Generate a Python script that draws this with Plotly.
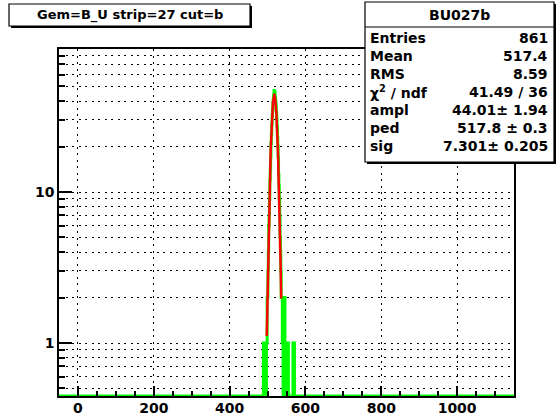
import numpy as np
import plotly.graph_objects as go

# ---------------- data ----------------
X_MIN, X_MAX = -50, 1150            # histogram range, 1 unit bins
nonzero_bins = [489, 491, 493, 497, 498, 499, 500, 501, 502, 503, 504, 505, 506, 507, 508,
                509, 510, 511, 512, 513, 514, 515, 516, 517, 518, 519, 520, 521, 522, 523,
                524, 525, 526, 527, 528, 529, 530, 531, 532, 533, 534, 535, 536, 537, 538,
                539, 540, 542, 544, 545, 547, 549, 551, 553, 554, 567, 569, 570]
nonzero_counts = [1, 1, 1, 1, 1, 2, 2, 3, 4, 6, 7, 9, 12, 14, 17,
                  21, 24, 28, 32, 35, 39, 41, 44, 47, 45, 46, 42, 40, 38, 34,
                  31, 27, 23, 20, 17, 13, 11, 9, 7, 5, 4, 3, 2, 2, 2,
                  1, 2, 2, 1, 2, 1, 1, 1, 1, 1, 1, 1, 1]
fit_ampl, fit_ped, fit_sig = 44.01, 517.8, 7.301
fit_lo, fit_hi = 498.0, 536.0

title_text = "Gem=B_U strip=27 cut=b"
stats_name = "BU027b"
stats_labels = ["Entries", "Mean", "RMS", "χ<sup>2</sup> / ndf", "ampl", "ped", "sig"]
stats_values = ["861", "517.4", "8.59", "41.49 / 36", "44.01± 1.94", "517.8 ± 0.3", "7.301± 0.205"]

x_tick_vals = [0, 200, 400, 600, 800, 1000]

# ---------------- geometry ----------------
W, H = 558, 417
L, R, T, B = 59, 44, 49, 21
PW, PH = W - L - R, H - T - B
Y_LOG_RANGE = [-0.351, 1.947]
Y_MIN = 10 ** Y_LOG_RANGE[0]


def pxx(xp):
    return (xp - L) / PW


def pxy(yp):
    return (H - B - yp) / PH


# histogram as step line
edges = np.arange(X_MIN, X_MAX + 1)
counts = np.zeros(len(edges) - 1)
for b, c in zip(nonzero_bins, nonzero_counts):
    counts[b - X_MIN] = c
yplot = np.where(counts > 0, counts, Y_MIN)
ystep = np.append(yplot, yplot[-1])

xf = np.linspace(fit_lo, fit_hi, 200)
yf = fit_ampl * np.exp(-0.5 * ((xf - fit_ped) / fit_sig) ** 2)

FONT = "DejaVu Sans"
GREEN = "#00ff00"

fig = go.Figure()
fig.add_trace(go.Scatter(x=edges, y=ystep, mode="lines", line=dict(color=GREEN, width=3, shape="hv"),
                         hoverinfo="skip"))
fig.add_trace(go.Scatter(x=xf, y=yf, mode="lines", line=dict(color="#ff0000", width=2.5),
                         hoverinfo="skip"))

grid = dict(gridcolor="black", gridwidth=1.3, griddash="2px,4.5px")

fig.update_layout(
    width=W, height=H, margin=dict(l=L, r=R, t=T, b=B, autoexpand=False),
    paper_bgcolor="white", plot_bgcolor="white", showlegend=False,
    xaxis=dict(range=[X_MIN, X_MAX], tickmode="array", tickvals=x_tick_vals, automargin=False,
               ticks="inside", ticklen=10, tickwidth=1.5, tickcolor="black", ticklabelstandoff=-2,
               showline=True, linecolor="black", linewidth=1.5, mirror=True,
               showgrid=True, zeroline=False, **grid,
               tickfont=dict(family=FONT, size=14, color="black", weight="bold"),
               minor=dict(tick0=0, dtick=50, ticks="inside", ticklen=5, tickwidth=1.5,
                          tickcolor="black", showgrid=False)),
    yaxis=dict(type="log", range=Y_LOG_RANGE, tickmode="linear", tick0=0, dtick=1, automargin=False,
               ticks="inside", ticklen=13, tickwidth=1.5, tickcolor="black",
               showline=True, linecolor="black", linewidth=1.5, mirror=True,
               showgrid=True, zeroline=False, **grid,
               tickfont=dict(family=FONT, size=14, color="black", weight="bold"),
               minor=dict(dtick="D1", ticks="inside", ticklen=6.5, tickwidth=1.5,
                          tickcolor="black", showgrid=True, **grid)),
)

shapes = []
annotations = []


def box(x0, y0, x1, y1, sh=2):
    shapes.append(dict(type="rect", xref="paper", yref="paper",
                       x0=pxx(x0 + sh), x1=pxx(x1 + sh), y0=pxy(y0 + sh), y1=pxy(y1 + sh),
                       fillcolor="black", line=dict(width=0), layer="above"))
    shapes.append(dict(type="rect", xref="paper", yref="paper",
                       x0=pxx(x0), x1=pxx(x1), y0=pxy(y0), y1=pxy(y1),
                       fillcolor="white", line=dict(color="black", width=1.2), layer="above"))


def text(x, y, s, anchor, size=14):
    annotations.append(dict(xref="paper", yref="paper", x=pxx(x), y=pxy(y), text="<b>%s</b>" % s,
                            showarrow=False, xanchor=anchor, yanchor="middle",
                            font=dict(family=FONT, size=size, color="black")))


# title box
box(9, 4, 250, 26)
text(129.5, 15.5, title_text, "center", 13)

# stats box
SX0, SX1, SY0, SY1 = 365, 554, 2, 162
box(SX0, SY0, SX1, SY1)
shapes.append(dict(type="line", xref="paper", yref="paper", x0=pxx(SX0), x1=pxx(SX1),
                   y0=pxy(27), y1=pxy(27), line=dict(color="black", width=1.2), layer="above"))
text((SX0 + SX1) / 2, 15, stats_name, "center")
row_y = [38, 56, 74, 92, 110, 128, 146]
for lab, val, yy in zip(stats_labels, stats_values, row_y):
    text(SX0 + 3, yy, lab, "left")
    text(SX1 - 4, yy, val, "right")

fig.update_layout(shapes=shapes, annotations=annotations)
fig.write_html("out.html", config={"displayModeBar": False},
               post_script="document.body.style.margin='0px';document.body.style.padding='0px';")
